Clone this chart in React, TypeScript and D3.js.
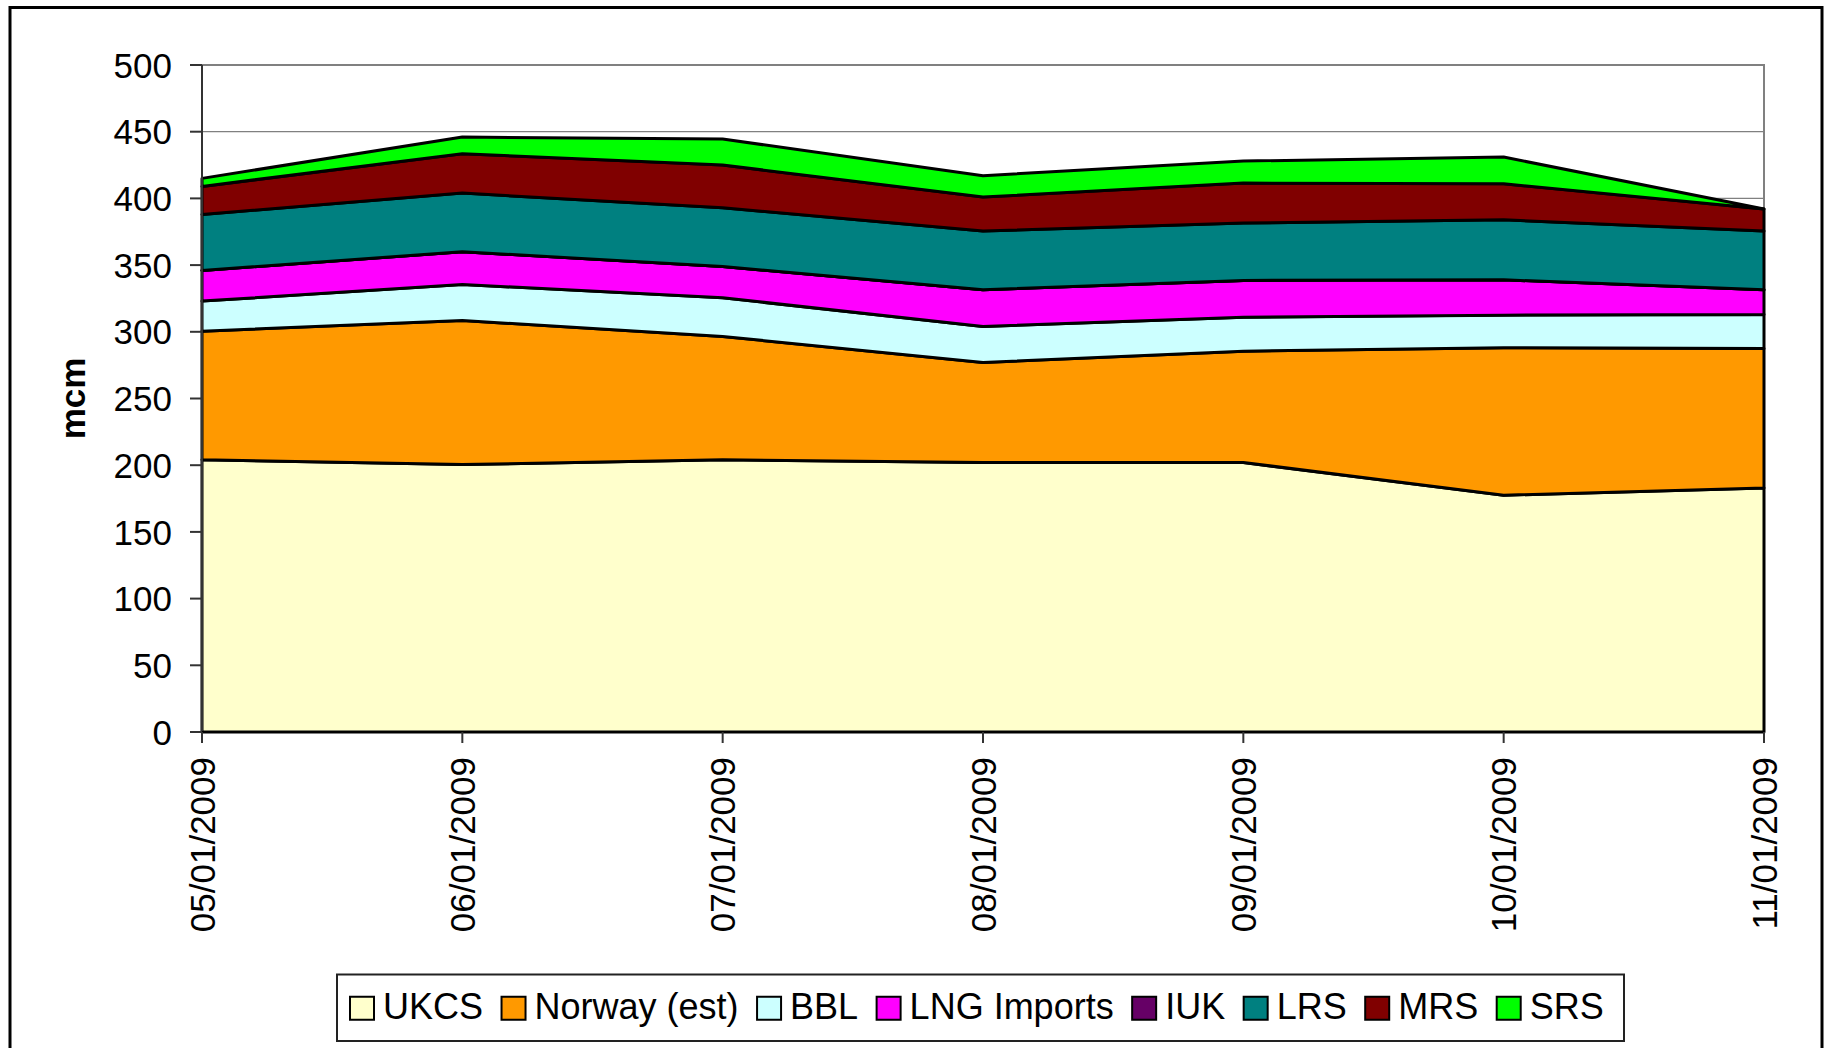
import React, { useEffect, useRef } from "react";
import * as d3 from "d3";

const dates = [
  "05/01/2009",
  "06/01/2009",
  "07/01/2009",
  "08/01/2009",
  "09/01/2009",
  "10/01/2009",
  "11/01/2009",
];

const ukcs = [204, 200.5, 204, 202, 202, 177.5, 183];
const norway = [96.5, 108, 92.5, 75, 83.5, 110.5, 104.5];
const bbl = [22.5, 27, 29, 27, 25.5, 24.5, 25.5];
const lng = [23, 24.5, 23.5, 27.5, 27.5, 26.5, 18.5];
const iuk = [0, 0, 0, 0, 0, 0, 0];
const lrs = [42, 44, 44, 44, 43, 45, 44];
const mrs = [21, 29.5, 32, 25.5, 30, 27, 16.5];
const srs = [6, 12.5, 19.5, 16, 16.5, 20, 0];

const seriesNames = ["UKCS", "Norway (est)", "BBL", "LNG Imports", "IUK", "LRS", "MRS", "SRS"];
const seriesValues = [ukcs, norway, bbl, lng, iuk, lrs, mrs, srs];
const seriesColors = ["#FFFFCC", "#FF9900", "#CCFFFF", "#FF00FF", "#660066", "#008080", "#800000", "#00FF00"];

const yTicks = [0, 50, 100, 150, 200, 250, 300, 350, 400, 450, 500];

const W = 1827;
const H = 1048;
const FONT = "'Liberation Sans', Arial, sans-serif";

const App = () => {
  const svgRef = useRef<SVGSVGElement>(null);

  useEffect(() => {
    const svg = d3.select(svgRef.current);
    svg.selectAll("*").remove();

    const plot = { left: 202, right: 1764, top: 65, bottom: 732 };

    const x = d3.scalePoint().domain(dates).range([plot.left, plot.right]).padding(0);
    const y = d3.scaleLinear().domain([0, 500]).range([plot.bottom, plot.top]);

    // chart border
    svg
      .append("rect")
      .attr("x", 10)
      .attr("y", 7.5)
      .attr("width", 1812)
      .attr("height", 1080)
      .attr("fill", "white")
      .attr("stroke", "black")
      .attr("stroke-width", 3);

    // plot area outline + gridlines
    svg
      .append("rect")
      .attr("x", plot.left)
      .attr("y", plot.top)
      .attr("width", plot.right - plot.left)
      .attr("height", plot.bottom - plot.top)
      .attr("fill", "white")
      .attr("stroke", "#808080")
      .attr("stroke-width", 2);

    svg
      .append("g")
      .selectAll("line")
      .data(yTicks.filter((d) => d > 0))
      .enter()
      .append("line")
      .attr("x1", plot.left)
      .attr("x2", plot.right)
      .attr("y1", (d) => y(d))
      .attr("y2", (d) => y(d))
      .attr("stroke", "#808080")
      .attr("stroke-width", 1.3);

    // stacked areas
    const table = dates.map((d, i) => {
      const row: any = { date: d };
      seriesNames.forEach((s, j) => (row[s] = seriesValues[j][i]));
      return row;
    });
    const stacked = d3.stack().keys(seriesNames)(table);

    const area = d3
      .area<any>()
      .x((d) => x(d.data.date) as number)
      .y0((d) => y(d[0]))
      .y1((d) => y(d[1]));

    svg
      .append("g")
      .selectAll("path")
      .data(stacked)
      .enter()
      .append("path")
      .attr("d", (d) => area(d as any))
      .attr("fill", (d, i) => seriesColors[i])
      .attr("stroke", "black")
      .attr("stroke-width", 3)
      .attr("stroke-linejoin", "round");

    // axes
    svg
      .append("line")
      .attr("x1", plot.left)
      .attr("x2", plot.left)
      .attr("y1", plot.top)
      .attr("y2", plot.bottom)
      .attr("stroke", "#333")
      .attr("stroke-width", 2);
    svg
      .append("line")
      .attr("x1", plot.left)
      .attr("x2", plot.right)
      .attr("y1", plot.bottom)
      .attr("y2", plot.bottom)
      .attr("stroke", "black")
      .attr("stroke-width", 2);

    const yAxis = svg.append("g");
    yAxis
      .selectAll("line")
      .data(yTicks)
      .enter()
      .append("line")
      .attr("x1", plot.left - 12)
      .attr("x2", plot.left)
      .attr("y1", (d) => y(d))
      .attr("y2", (d) => y(d))
      .attr("stroke", "#333")
      .attr("stroke-width", 2);
    yAxis
      .selectAll("text")
      .data(yTicks)
      .enter()
      .append("text")
      .attr("x", 172)
      .attr("y", (d) => y(d))
      .attr("dy", "0.36em")
      .attr("text-anchor", "end")
      .attr("font-family", FONT)
      .attr("font-size", 35)
      .text((d) => d);

    const xAxis = svg.append("g");
    xAxis
      .selectAll("line")
      .data(dates)
      .enter()
      .append("line")
      .attr("x1", (d) => x(d) as number)
      .attr("x2", (d) => x(d) as number)
      .attr("y1", plot.bottom)
      .attr("y2", plot.bottom + 11)
      .attr("stroke", "#333")
      .attr("stroke-width", 2);
    xAxis
      .selectAll("text")
      .data(dates)
      .enter()
      .append("text")
      .attr("transform", (d) => `translate(${x(d)},757) rotate(-90)`)
      .attr("dy", "0.36em")
      .attr("text-anchor", "end")
      .attr("font-family", FONT)
      .attr("font-size", 35)
      .text((d) => d);

    // y title
    svg
      .append("text")
      .attr("transform", `translate(72,${(plot.top + plot.bottom) / 2}) rotate(-90)`)
      .attr("dy", "0.36em")
      .attr("text-anchor", "middle")
      .attr("font-family", FONT)
      .attr("font-size", 35)
      .attr("font-weight", "bold")
      .text("mcm");

    // legend
    const legend = { left: 337, top: 974.5, right: 1624, bottom: 1041 };
    svg
      .append("rect")
      .attr("x", legend.left)
      .attr("y", legend.top)
      .attr("width", legend.right - legend.left)
      .attr("height", legend.bottom - legend.top)
      .attr("fill", "white")
      .attr("stroke", "#222")
      .attr("stroke-width", 2);

    let cx = legend.left + 13;
    const midY = (legend.top + legend.bottom) / 2;
    seriesNames.forEach((name, i) => {
      svg
        .append("rect")
        .attr("x", cx)
        .attr("y", midY - 11)
        .attr("width", 24)
        .attr("height", 23)
        .attr("fill", seriesColors[i])
        .attr("stroke", "black")
        .attr("stroke-width", 2);
      const t = svg
        .append("text")
        .attr("x", cx + 33)
        .attr("y", midY)
        .attr("dy", "0.3em")
        .attr("font-family", FONT)
        .attr("font-size", 36)
        .text(name);
      const w = (t.node() as SVGTextElement).getComputedTextLength();
      cx = cx + 33 + w + 18.5;
    });
  }, []);

  return (
    <svg
      ref={svgRef}
      width={W}
      height={H}
      style={{ position: "absolute", left: 0, top: 0, display: "block", background: "white" }}
    />
  );
};

export default App;
